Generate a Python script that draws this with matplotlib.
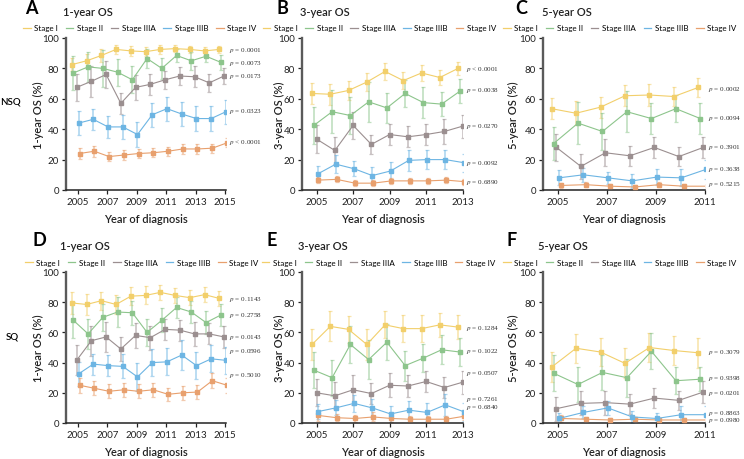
import matplotlib.pyplot as plt
from matplotlib.lines import Line2D
from matplotlib import transforms

plt.rcParams["font.family"] = ["Lato", "DejaVu Sans"]
plt.rcParams["mathtext.fontset"] = "stix"

# ---------------- data ----------------
stages = ["Stage I", "Stage II", "Stage IIIA", "Stage IIIB", "Stage IV"]
stage_colors = ["#F2CF6B", "#8DC58C", "#9B8F90", "#6DB5E3", "#E8A06E"]

years_1y = [2005, 2006, 2007, 2008, 2009, 2010, 2011, 2012, 2013, 2014, 2015]
years_3y = [2005, 2006, 2007, 2008, 2009, 2010, 2011, 2012, 2013]
years_5y = [2005, 2006, 2007, 2008, 2009, 2010, 2011]

# NSQ
nsq_1y = [[82.5, 85, 88.5, 92.5, 91.5, 91, 92.5, 93, 92.5, 91.5, 92.5],
          [77, 81, 80, 77.5, 72.5, 86.5, 80, 88.5, 85, 88, 84],
          [67.5, 71.5, 76, 57, 67.5, 69.5, 72.5, 75, 74.5, 70.5, 75],
          [44, 46.5, 41.5, 41.5, 36.5, 49.5, 53.5, 50, 47, 47, 51.5],
          [24, 25.5, 22, 23, 24, 24.5, 25.5, 27, 27, 27.5, 31]]
nsq_1y_err = [[4.5, 4.5, 4, 3, 3.5, 3, 3, 2.5, 2.5, 2.5, 2.5],
              [11, 10, 12, 9, 9, 6, 7, 4, 6, 4, 5],
              [9, 10, 9, 7, 8, 7, 6, 6, 7, 6, 5],
              [8, 7, 7, 8, 8, 8, 8, 8, 8, 8, 8],
              [3.5, 3.5, 3, 3, 3, 3, 3, 3, 3, 3, 3]]
nsq_1y_p = ["= 0.0001", "= 0.0073", "= 0.0173", "= 0.0323", "< 0.0001"]

nsq_3y = [[63.5, 63, 65.5, 71, 78, 72, 77, 74, 80],
          [42.5, 51.5, 49, 58, 54, 63.5, 57.5, 56.5, 65],
          [33.5, 26, 42.5, 30, 36.5, 35, 36.5, 38.5, 42],
          [10.5, 17, 14, 9.5, 12.5, 19.5, 20, 20, 18],
          [6.5, 7, 4.5, 4.5, 6, 6, 6, 6.5, 5.5]]
nsq_3y_err = [[7, 7, 6, 6, 5.5, 5.5, 5, 5, 4.5],
              [12, 14, 12, 13, 10, 9, 10, 8, 8],
              [9, 9, 9, 6, 7, 7, 7, 8, 7.5],
              [5.5, 6, 5, 5.5, 6, 7, 6.5, 6.5, 6],
              [2, 2, 2, 2, 2, 2, 2, 2, 2]]
nsq_3y_p = ["< 0.0001", "= 0.0038", "= 0.0270", "= 0.0092", "= 0.6890"]

nsq_5y = [[53.5, 50.5, 54.5, 62, 62.5, 61.5, 67.5],
          [30.5, 44, 38.5, 51.5, 47, 53.5, 47],
          [28, 15.5, 24.5, 22.5, 28, 22, 28],
          [8, 10, 8, 6, 8.5, 8, 13.5],
          [3, 3.5, 2.5, 2, 3.5, 2.5, 2.5]]
nsq_5y_err = [[7, 8, 7, 7, 7, 6.5, 6],
              [11, 14, 12, 13.5, 10, 9, 10],
              [9, 8, 9, 6.5, 7, 6, 7],
              [5, 4.5, 4, 4.5, 5.5, 5.5, 6],
              [1.5, 1.5, 1.5, 1.5, 1.5, 1.5, 1.5]]
nsq_5y_p = ["= 0.0002", "= 0.0094", "= 0.3901", "= 0.3638", "= 0.5215"]

# SQ
sq_1y = [[79.5, 78.5, 81, 78.5, 84, 84.5, 86.5, 84.5, 83, 85, 82.5],
         [68, 59, 70, 73.5, 73, 60, 68, 76.5, 73.5, 66.5, 71.5],
         [41.5, 54.5, 57, 49, 58, 56.5, 62, 61.5, 59, 59, 57],
         [32.5, 39, 38, 37.5, 30.5, 40, 40.5, 45, 38, 42.5, 41.5],
         [25, 23, 21, 22, 21, 22, 19, 20, 20.5, 28, 25]]
sq_1y_err = [[7, 7, 6, 6.5, 6, 6, 5, 5, 5, 5, 5],
             [12, 10, 9, 10, 8, 9, 8, 7, 7, 7.5, 7],
             [10, 10, 10, 8, 8, 8, 7, 7, 8, 7, 7],
             [8, 7, 7, 8, 9, 9, 9, 10, 9, 9, 9],
             [5, 4.5, 4.5, 4.5, 4.5, 4.5, 4.5, 4.5, 4.5, 5, 5]]
sq_1y_p = ["= 0.1143", "= 0.2758", "= 0.0143", "= 0.0596", "= 0.5010"]

sq_3y = [[52, 64, 62, 52, 65, 62.5, 62.5, 65, 63.5],
         [35, 30, 52, 42, 53.5, 38, 43, 48.5, 47],
         [20, 18, 22, 19.5, 25, 24.5, 27.5, 23.5, 27],
         [7.5, 10, 13, 10, 6, 8.5, 7, 12, 7.5],
         [5, 3.5, 3, 4, 3, 2.5, 2.5, 2.5, 4.5]]
sq_3y_err = [[10, 10, 9, 10, 9, 9, 9, 8, 8],
             [12, 12, 12, 13, 12, 10, 9, 9.5, 9.5],
             [9, 9, 10, 7, 8, 7.5, 7, 7, 7.5],
             [5, 5, 5.5, 6, 5.5, 6, 6, 7.5, 6],
             [3.5, 2.5, 2.5, 3, 2.5, 2, 2, 2, 2.5]]
sq_3y_p = ["= 0.1284", "= 0.1022", "= 0.0507", "= 0.7261", "= 0.6840"]

sq_5y = [[37, 49.5, 47, 39.5, 50, 48, 46.5],
         [33, 25.5, 33.5, 30, 47.5, 28, 29],
         [9.5, 13, 13.5, 12.5, 16.5, 15, 20.5],
         [3, 7, 10, 4, 3, 5.5, 5.5],
         [3, 2.5, 2, 2.5, 2, 2, 2]]
sq_5y_err = [[10, 9.5, 9, 10, 9.5, 9.5, 10],
             [12, 11.5, 11.5, 12.5, 12, 9, 8],
             [8, 8, 8, 6.5, 6.5, 6.5, 7],
             [3.5, 4, 4.5, 4, 3.5, 5.5, 5.5],
             [2.5, 1.5, 1.5, 1.5, 1.5, 1, 1]]
sq_5y_p = ["= 0.3079", "= 0.9398", "= 0.0201", "= 0.8863", "= 0.0980"]

# ---------------- layout ----------------
W, H = 744, 460
fig = plt.figure(figsize=(W / 100, H / 100), dpi=100)
fig.patch.set_facecolor("white")


def px_axes(left, right, top, bottom):
    return fig.add_axes([left / W, 1 - bottom / H, (right - left) / W, (bottom - top) / H])


def draw_panel(ax, years, values, errors, pvals, p_y, dodge, xleft, ylabel, ylab_x, leg_x):
    for i in range(5):
        xs = [yr + dodge[i] for yr in years]
        ax.errorbar(xs, values[i], yerr=errors[i], fmt="none", ecolor=stage_colors[i],
                    alpha=0.55, elinewidth=1.2, capsize=1.6, capthick=0.9, zorder=2)
        ax.plot(xs, values[i], color=stage_colors[i], lw=0.8, marker="s", ms=2.6,
                zorder=3 + (4 - i) * 0.1)
    ax.set_xlim(xleft, years[-1] + 0.02)
    ax.set_ylim(0, 100)
    ax.set_yticks([0, 20, 40, 60, 80, 100])
    ax.set_xticks(years[::2])
    ax.tick_params(labelsize=7, length=3, width=0.9, pad=2, colors="#222222")
    for s in ["top", "right"]:
        ax.spines[s].set_visible(False)
    ax.spines["left"].set_color("#5a5a5a")
    ax.spines["left"].set_linewidth(1.7)
    ax.spines["bottom"].set_color("#222222")
    ax.spines["bottom"].set_linewidth(1.1)
    ax.spines["left"].set_bounds(0, 100)
    ax.set_ylabel(ylabel, fontsize=8, fontweight="semibold", color="#222222")
    ax.yaxis.set_label_coords(ylab_x, 0.5)
    ax.set_xlabel("Year of diagnosis", fontsize=8, fontweight="semibold", color="#222222")
    ax.xaxis.set_label_coords(0.5, -0.15)
    trans = transforms.blended_transform_factory(ax.transAxes, ax.transData)
    for i in range(5):
        ax.text(1.02, p_y[i], r"$p$ " + pvals[i], transform=trans, fontsize=5.1,
                family="Liberation Serif", va="center", ha="left", color="#333333")
    handles = [Line2D([], [], color=c, lw=0.9) for c in stage_colors]
    ax.legend(handles, stages, ncol=5, loc="center left", bbox_to_anchor=(leg_x, 1.066),
              frameon=False, fontsize=5.8, handlelength=0.95, handletextpad=0.45,
              columnspacing=0.95, borderaxespad=0, borderpad=0)


dodge_1y = [-0.4, -0.3, -0.08, 0.05, 0.12]
dodge_3y = [-0.25, -0.15, 0, 0.05, 0.1]
dodge_5y = [-0.25, -0.17, -0.05, 0.05, 0.15]

axA = px_axes(66, 225.5, 39, 191)
axB = px_axes(302, 463, 39, 191)
axC = px_axes(543, 705, 39, 191)
axD = px_axes(66, 225.5, 273, 424)
axE = px_axes(302, 463, 273, 424)
axF = px_axes(543, 705, 273, 424)

draw_panel(axA, years_1y, nsq_1y, nsq_1y_err, nsq_1y_p, [92.5, 84.2, 75.6, 52.3, 31.9],
           dodge_1y, 2004.2, "1-year OS (%)", -0.138, -0.27)
draw_panel(axB, years_3y, nsq_3y, nsq_3y_err, nsq_3y_p, [79.8, 66.2, 42.4, 18.2, 5.5],
           dodge_3y, 2004.2, "3-year OS (%)", -0.105, -0.245)
draw_panel(axC, years_5y, nsq_5y, nsq_5y_err, nsq_5y_p, [67, 48, 28.6, 14.3, 4],
           dodge_5y, 2004.4, "5-year OS (%)", -0.148, -0.247)
draw_panel(axD, years_1y, sq_1y, sq_1y_err, sq_1y_p, [82.3, 72, 57.4, 47.8, 32.3],
           dodge_1y, 2004.2, "1-year OS (%)", -0.138, -0.257)
draw_panel(axE, years_3y, sq_3y, sq_3y_err, sq_3y_p, [63.1, 47.7, 33.5, 16.5, 11],
           dodge_3y, 2004.2, "3-year OS (%)", -0.105, -0.25)
draw_panel(axF, years_5y, sq_5y, sq_5y_err, sq_5y_p, [47.5, 30, 20.5, 7.2, 2.0],
           dodge_5y, 2004.4, "5-year OS (%)", -0.148, -0.247)

# panel letters and titles
letters = [("A", 25, 9), ("B", 277, 9), ("C", 515, 9), ("D", 33, 241), ("E", 267, 241), ("F", 507, 241)]
for txt, x, y in letters:
    fig.text(x / W, 1 - y / H, txt, fontsize=13, fontweight="bold", ha="left", va="center")
titles = [("1-year OS", 63, 13), ("3-year OS", 300, 13), ("5-year OS", 542, 13),
          ("1-year OS", 60, 247), ("3-year OS", 298, 247), ("5-year OS", 538, 247)]
for txt, x, y in titles:
    fig.text(x / W, 1 - y / H, txt, fontsize=8, fontweight="semibold", ha="left", va="center",
             color="#222222")

fig.text(0 / W, 1 - 102 / H, "NSQ", fontsize=7, fontweight="semibold", ha="left", va="center")
fig.text(6 / W, 1 - 337 / H, "SQ", fontsize=7, fontweight="semibold", ha="left", va="center")

fig.savefig("out.png", dpi=100, facecolor="white")
